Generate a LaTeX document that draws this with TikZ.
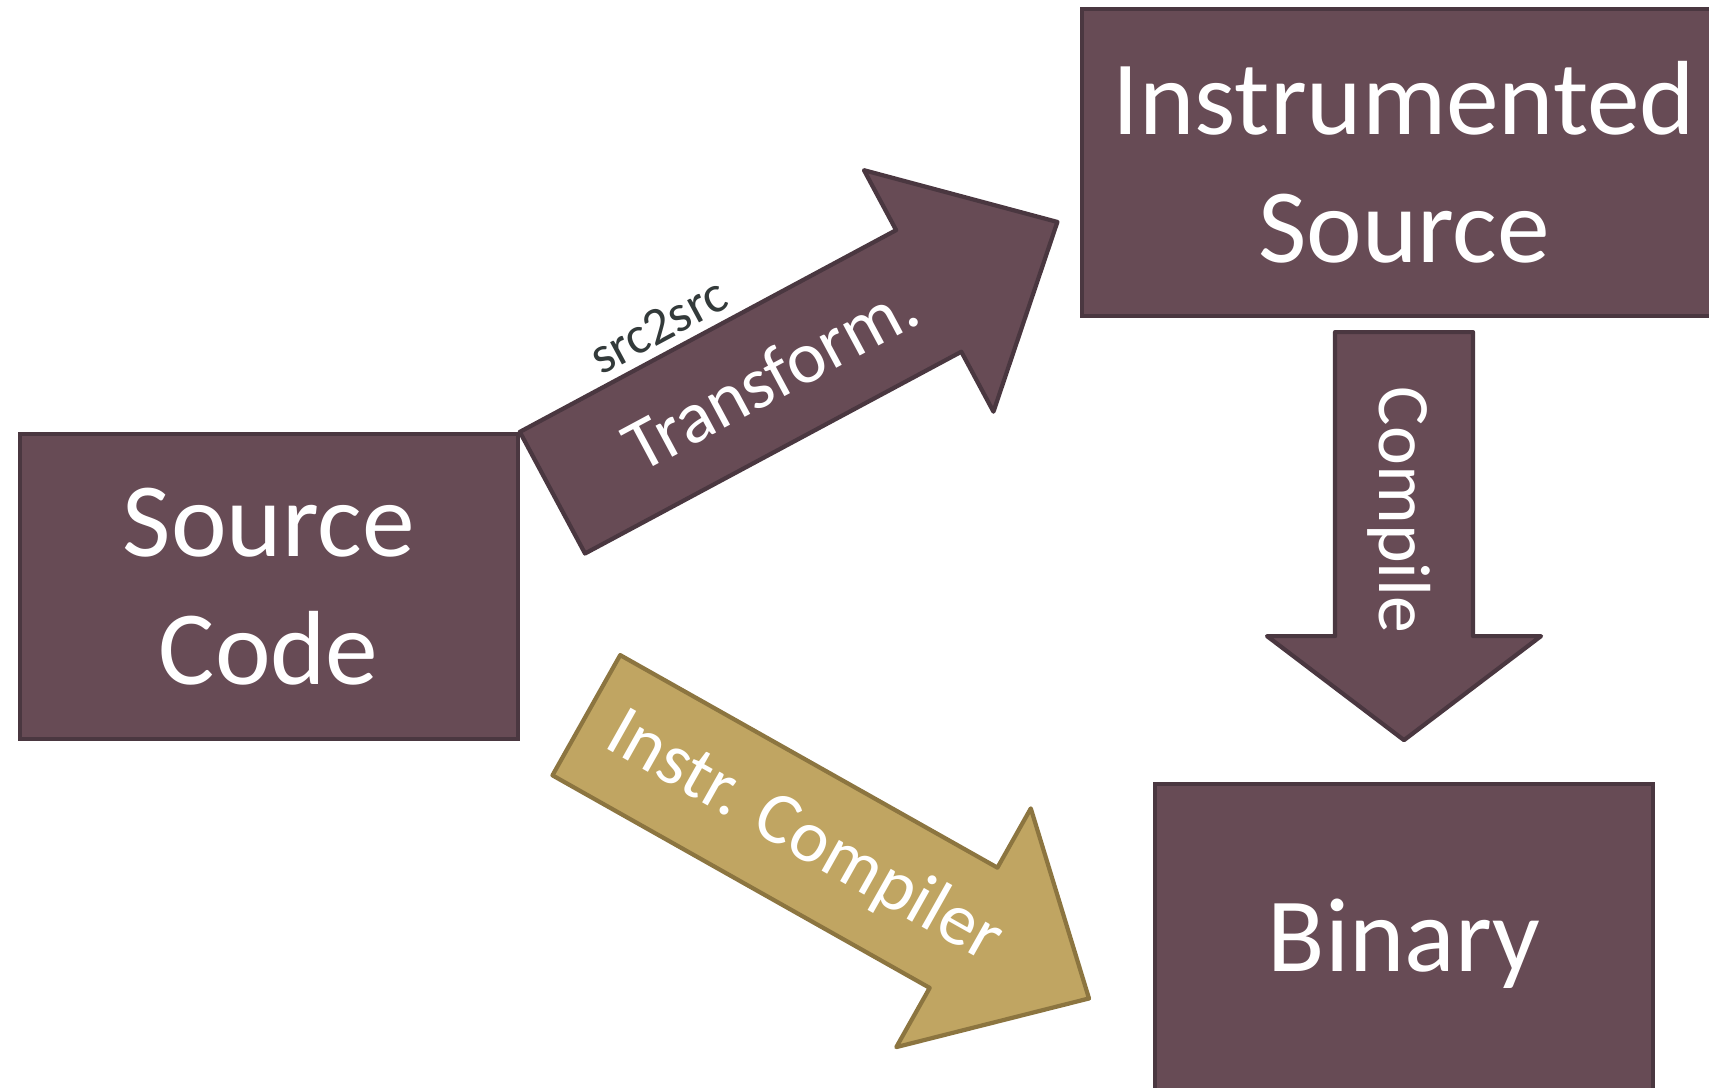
\documentclass[tikz,border=0pt]{standalone}
\usepackage{fontspec}
\setmainfont{Carlito}
\definecolor{plum}{HTML}{674B55}
\definecolor{plumdark}{HTML}{4A3740}
\definecolor{gold}{HTML}{C0A562}
\definecolor{golddark}{HTML}{8C7540}
\definecolor{inkgray}{HTML}{333A3A}
\tikzset{
  box/.style={draw=plumdark, fill=plum, line width=1.2pt, text=white, align=center,
    inner sep=0pt, font=\fontsize{30}{36.5}\selectfont},
  plumarrow/.style={draw=plumdark, fill=plum, line width=1.2pt, line join=round},
  goldarrow/.style={draw=golddark, fill=gold, line width=1.2pt, line join=round},
  lbl/.style={text=white, inner sep=0pt, font=\fontsize{21}{25}\selectfont},
  sublbl/.style={text=inkgray, inner sep=0pt, font=\fontsize{15}{18}\selectfont}
}
\begin{document}
\begin{tikzpicture}
  \useasboundingbox (0,0) rectangle (17.09,10.87);

  \def\w{1.38};  % shaft width
  \def\e{0.68};  % head overhang

  %boxes
  \node[box, minimum width=4.98cm, minimum height=3.05cm] (src) at (2.687,5.005) {Source\\Code};
  \node[box, minimum width=6.44cm, minimum height=3.07cm] (instr) at (14.04,9.245) {Instrumented\\Source};
  \node[box, minimum width=4.98cm, minimum height=3.2cm] (bin) at (14.04,1.43) {Binary};

  %src2src transform
  \begin{scope}[shift={(src.north east)}, rotate=28.2]
    \draw[plumarrow] (0,0) -- (4.27,0) -- (4.27,\e) -- (5.73,-\w/2) -- (4.27,-\w-\e)
      -- (4.27,-\w) -- (0,-\w) -- cycle;
    \node[lbl, rotate=28.2] (trf) at (2.47,-\w/2) {Transform.};
    \node[sublbl, rotate=28.2] (s2s) at (1.72,0.28) {src2src};
  \end{scope}

  %instrumenting compiler
  \begin{scope}[shift={(6.202,4.319)}, rotate=-29.4]
    \draw[goldarrow] (0,0) -- (4.33,0) -- (4.33,\e) -- (5.77,-\w/2) -- (4.33,-\w-\e)
      -- (4.33,-\w) -- (0,-\w) -- cycle;
    \node[lbl, rotate=-29.4] (icc) at (2.5,-\w/2) {Instr. Compiler};
  \end{scope}

  %compile
  \begin{scope}[shift={(instr.south)}]
    \draw[plumarrow] (-\w/2,-0.14) -- (\w/2,-0.14) -- (\w/2,-3.18) -- (\w/2+\e,-3.18)
      -- (0,-4.22) -- (-\w/2-\e,-3.18) -- (-\w/2,-3.18) -- cycle;
    \node[lbl, rotate=-90] (cmp) at (-0.05,-1.92) {Compile};
  \end{scope}

\end{tikzpicture}
\end{document}
